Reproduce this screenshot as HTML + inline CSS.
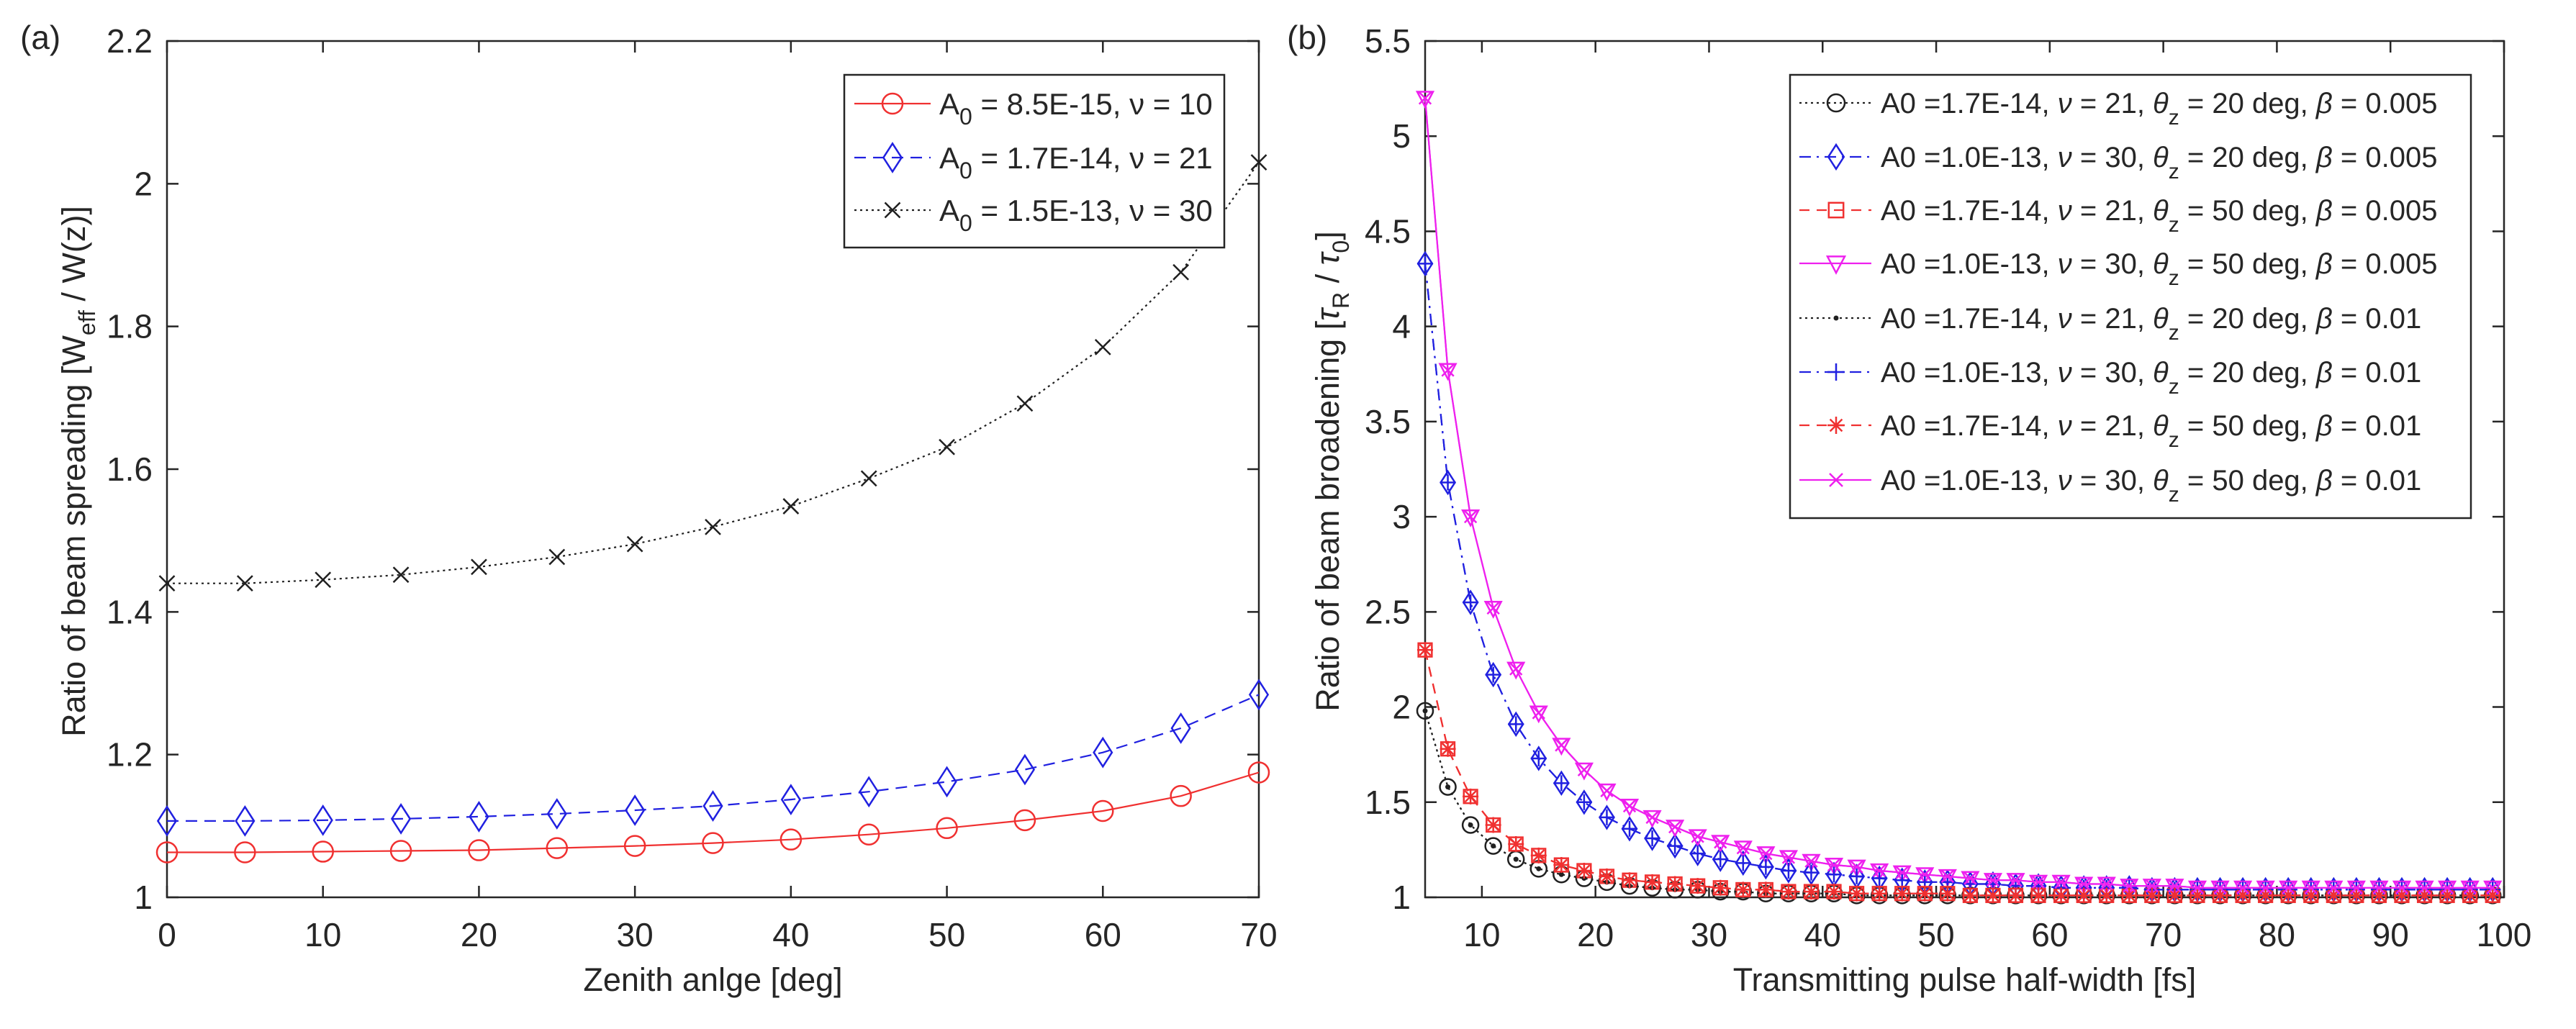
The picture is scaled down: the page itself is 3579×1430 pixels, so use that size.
<!DOCTYPE html>
<html><head><meta charset="utf-8"><style>
html,body{margin:0;padding:0;background:#fff;}
svg{display:block;font-family:"Liberation Sans",sans-serif;}
</style></head><body>
<svg id="fig" width="3579" height="1430" viewBox="0 0 3579 1430" xmlns="http://www.w3.org/2000/svg">
<rect width="3579" height="1430" fill="#fff"/>
<g id="pa"></g>
<g id="pb"></g>
</svg>
<script>
// Panel (a) data
const aX = [0,5,10,15,20,25,30,35,40,45,50,55,60,65,70];
const aRed = [1.063,1.063,1.064,1.065,1.066,1.069,1.072,1.076,1.081,1.088,1.097,1.108,1.121,1.142,1.175];
const aBlue = [1.107,1.107,1.108,1.110,1.113,1.117,1.122,1.128,1.137,1.148,1.162,1.179,1.203,1.237,1.284];
const aBlack = [1.440,1.440,1.445,1.452,1.463,1.477,1.495,1.519,1.548,1.587,1.631,1.692,1.771,1.876,2.030];
const aXTicks = [0,10,20,30,40,50,60,70];
const aYTicks = [1,1.2,1.4,1.6,1.8,2,2.2];
const aYTickLabels = ["1","1.2","1.4","1.6","1.8","2","2.2"];
const aLegend = ["A0 = 8.5E-15, \u03bd = 10","A0 = 1.7E-14, \u03bd = 21","A0 = 1.5E-13, \u03bd = 30"];
// Panel (b) data
const bX = [5,7,9,11,13,15,17,19,21,23,25,27,29,31,33,35,37,39,41,43,45,47,49,51,53,55,57,59,61,63,65,67,69,71,73,75,77,79,81,83,85,87,89,91,93,95,97,99];
const bBlack = [1.98,1.58,1.38,1.27,1.20,1.15,1.12,1.10,1.08,1.06,1.05,1.04,1.04,1.03,1.03,1.02,1.02,1.02,1.02,1.01,1.01,1.01,1.01,1.01,1.01,1.01,1.01,1.01,1.01,1.01,1.01,1.01,1.01,1.01,1.01,1.01,1.01,1.01,1.01,1.01,1.01,1.01,1.01,1.01,1.01,1.01,1.01,1.01];
const bBlue = [4.33,3.18,2.55,2.17,1.91,1.73,1.60,1.50,1.42,1.36,1.31,1.27,1.23,1.20,1.18,1.16,1.14,1.13,1.12,1.11,1.10,1.09,1.08,1.08,1.07,1.07,1.06,1.06,1.05,1.05,1.05,1.05,1.04,1.04,1.04,1.04,1.04,1.04,1.04,1.04,1.04,1.04,1.04,1.04,1.04,1.04,1.04,1.04];
const bRed = [2.30,1.78,1.53,1.38,1.28,1.22,1.17,1.14,1.11,1.09,1.08,1.07,1.06,1.05,1.04,1.04,1.03,1.03,1.03,1.02,1.02,1.02,1.02,1.02,1.01,1.01,1.01,1.01,1.01,1.01,1.01,1.01,1.01,1.01,1.01,1.01,1.01,1.01,1.01,1.01,1.01,1.01,1.01,1.01,1.01,1.01,1.01,1.01];
const bPink = [5.20,3.77,3.00,2.52,2.20,1.97,1.80,1.67,1.56,1.48,1.42,1.37,1.32,1.29,1.26,1.23,1.21,1.19,1.17,1.16,1.14,1.13,1.12,1.11,1.10,1.09,1.09,1.08,1.08,1.07,1.07,1.06,1.06,1.06,1.05,1.05,1.05,1.05,1.05,1.05,1.05,1.05,1.05,1.05,1.05,1.05,1.05,1.05];
const bXTicks = [10,20,30,40,50,60,70,80,90,100];
const bYTicks = [1,1.5,2,2.5,3,3.5,4,4.5,5,5.5];
const bYTickLabels = ["1","1.5","2","2.5","3","3.5","4","4.5","5","5.5"];
const bLegendA0 = ["1.7E-14","1.0E-13","1.7E-14","1.0E-13","1.7E-14","1.0E-13","1.7E-14","1.0E-13"];
const bLegendNu = ["21","30","21","30","21","30","21","30"];
const bLegendTh = ["20","20","50","50","20","20","50","50"];
const bLegendBeta = ["0.005","0.005","0.005","0.005","0.01","0.01","0.01","0.01"];

const NS="http://www.w3.org/2000/svg";
function mk(parent,tag,attrs){const e=document.createElementNS(NS,tag);for(const k in attrs)e.setAttribute(k,attrs[k]);parent.appendChild(e);return e;}

function marker(g,type,x,y,s,color){
  let e;
  if(type==='o'){e=mk(g,'circle',{cx:x,cy:y,r:s,fill:'none',stroke:color,'stroke-width':2.5});}
  else if(type==='d'){e=mk(g,'polygon',{points:`${x},${y-s*1.4} ${x+s*0.9},${y} ${x},${y+s*1.4} ${x-s*0.9},${y}`,fill:'none',stroke:color,'stroke-width':2.5});}
  else if(type==='s'){e=mk(g,'rect',{x:x-s*0.85,y:y-s*0.85,width:s*1.7,height:s*1.7,fill:'none',stroke:color,'stroke-width':2.5});}
  else if(type==='v'){e=mk(g,'polygon',{points:`${x-s},${y-s*0.8} ${x+s},${y-s*0.8} ${x},${y+s*1.1}`,fill:'none',stroke:color,'stroke-width':2.5});}
  else if(type==='.'){e=mk(g,'circle',{cx:x,cy:y,r:3.5,fill:color});}
  else if(type==='+'){e=mk(g,'path',{d:`M${x-s} ${y}H${x+s}M${x} ${y-s}V${y+s}`,stroke:color,'stroke-width':2.5});}
  else if(type==='*'){const a=s*0.7;e=mk(g,'path',{d:`M${x-s} ${y}H${x+s}M${x} ${y-s}V${y+s}M${x-a} ${y-a}L${x+a} ${y+a}M${x-a} ${y+a}L${x+a} ${y-a}`,stroke:color,'stroke-width':2.5});}
  else if(type==='x'){const a=s*0.75;e=mk(g,'path',{d:`M${x-a} ${y-a}L${x+a} ${y+a}M${x-a} ${y+a}L${x+a} ${y-a}`,stroke:color,'stroke-width':2.5});}
  
  
}

function axes(g,L,R,T,B,xs,ys,xt,yt,ytl,xlabel,ylabelFn){
  mk(g,'rect',{x:L,y:T,width:R-L,height:B-T,fill:'#fff',stroke:'#262626','stroke-width':2.5});
  xt.forEach(v=>{const x=xs(v);
    mk(g,'path',{d:`M${x} ${B}V${B-16}M${x} ${T}V${T+16}`,stroke:'#262626','stroke-width':2.5});
    const t=mk(g,'text',{x:x,y:B+68,'font-size':46,'text-anchor':'middle',fill:'#262626'});t.textContent=v;
    });
  yt.forEach((v,i)=>{const y=ys(v);
    mk(g,'path',{d:`M${L} ${y}H${L+16}M${R} ${y}H${R-16}`,stroke:'#262626','stroke-width':2.5});
    const t=mk(g,'text',{x:L-20,y:y+16,'font-size':46,'text-anchor':'end',fill:'#262626'});t.textContent=ytl[i];
    });
  const xl=mk(g,'text',{x:(L+R)/2,y:B+130,'font-size':45,'text-anchor':'middle',fill:'#262626'});xl.textContent=xlabel;
  
  ylabelFn(g);
}

function series(g,xs,ys,X,Y,color,dash,mtype,ms,name){
  const sg=mk(g,'g',{});
  
  
  const p=X.map((x,i)=>`${xs(x).toFixed(1)},${ys(Y[i]).toFixed(1)}`).join(' ');
  const attrs={points:p,fill:'none',stroke:color,'stroke-width':2.2};
  if(dash)attrs['stroke-dasharray']=dash;
  mk(sg,'polyline',attrs);
  X.forEach((x,i)=>marker(sg,mtype,xs(x),ys(Y[i]),ms,color));
}

// ---------- Panel a ----------
const ga=document.getElementById('pa');
const aL=232,aR=1749,aT=57,aB=1247;
const axs=v=>aL+(v-0)/(70-0)*(aR-aL);
const ays=v=>aB-(v-1)/(2.2-1)*(aB-aT);
axes(ga,aL,aR,aT,aB,axs,ays,aXTicks,aYTicks,aYTickLabels,"Zenith anlge [deg]",g=>{
  const t=mk(g,'text',{transform:'translate(118,655) rotate(-90)','font-size':45,'text-anchor':'middle',fill:'#262626'});
  t.innerHTML='Ratio of beam spreading [W<tspan font-size="32" dy="14">eff</tspan><tspan dy="-14"> / W(z)]</tspan>';
  
});
series(ga,axs,ays,aX,aRed,'#f03030',null,'o',14,'series-red');
series(ga,axs,ays,aX,aBlue,'#2020e0','16 10','d',14,'series-blue');
series(ga,axs,ays,aX,aBlack,'#202020','3 5','x',14,'series-black');
const la=mk(ga,'g',{});
mk(la,'rect',{x:1173,y:104,width:528,height:240,fill:'#fff',stroke:'#262626','stroke-width':2.5});
const aStyles=[['#f03030',null,'o'],['#2020e0','16 10','d'],['#202020','3 5','x']];
[144,219,292].forEach((y,i)=>{
  const st=aStyles[i];const at={x1:1187,x2:1293,y1:y,y2:y,stroke:st[0],'stroke-width':2.2};if(st[1])at['stroke-dasharray']=st[1];
  mk(la,'line',at);marker(la,st[2],1240,y,14,st[0]);
  const t=mk(la,'text',{x:1305,y:y+15,'font-size':42,fill:'#262626'});
  t.innerHTML=`A<tspan font-size="32" dy="14">0</tspan><tspan dy="-14"> = ${aLegend[i].slice(5)}</tspan>`;
  
});
const lblA=mk(ga,'text',{x:28,y:68,'font-size':46,fill:'#262626'});lblA.textContent='(a)';


// ---------- Panel b ----------
const gb=document.getElementById('pb');
const bL=1980,bR=3479,bT=57,bB=1247;
const bxs=v=>bL+(v-5)/(100-5)*(bR-bL);
const bys=v=>bB-(v-1)/(5.5-1)*(bB-bT);
axes(gb,bL,bR,bT,bB,bxs,bys,bXTicks,bYTicks,bYTickLabels,"Transmitting pulse half-width [fs]",g=>{
  const t=mk(g,'text',{transform:'translate(1860,655) rotate(-90)','font-size':45,'text-anchor':'middle',fill:'#262626'});
  t.innerHTML='Ratio of beam broadening [<tspan font-style="italic">\u03c4</tspan><tspan font-size="32" dy="14">R</tspan><tspan dy="-14"> / </tspan><tspan font-style="italic">\u03c4</tspan><tspan font-size="32" dy="14">0</tspan><tspan dy="-14">]</tspan>';
  
});
const bStyles=[['#202020','3 5','o',bBlack],['#2020e0','16 8 3 8','d',bBlue],['#f03030','14 10','s',bRed],['#ee20ee',null,'v',bPink],
               ['#202020','3 5','.',bBlack],['#2020e0','16 8 3 8','+',bBlue],['#f03030','14 10','*',bRed],['#ee20ee',null,'x',bPink]];
const bNames=['series-black-circle','series-blue-diamond','series-red-square','series-magenta-triangle','series-black-dot','series-blue-plus','series-red-star','series-magenta-x'];
bStyles.forEach((st,i)=>series(gb,bxs,bys,bX,st[3],st[0],st[1],st[2],11,bNames[i]));
const lb=mk(gb,'g',{});
mk(lb,'rect',{x:2487,y:104,width:946,height:616,fill:'#fff',stroke:'#262626','stroke-width':2.5});
[143,218,292,366,442,517,591,667].forEach((y,i)=>{
  const st=bStyles[i];const at={x1:2500,x2:2600,y1:y,y2:y,stroke:st[0],'stroke-width':2.2};if(st[1])at['stroke-dasharray']=st[1];
  mk(lb,'line',at);marker(lb,st[2],2551,y,12,st[0]);
  const t=mk(lb,'text',{x:2613,y:y+14,'font-size':40,fill:'#262626'});
  t.innerHTML=`A0 =${bLegendA0[i]}, <tspan font-style="italic">\u03bd</tspan> = ${bLegendNu[i]}, <tspan font-style="italic">\u03b8</tspan><tspan font-size="30" dy="16">z</tspan><tspan dy="-16"> = ${bLegendTh[i]} deg, </tspan><tspan font-style="italic">\u03b2</tspan> = ${bLegendBeta[i]}`;
  
});
const lblB=mk(gb,'text',{x:1788,y:68,'font-size':46,fill:'#262626'});lblB.textContent='(b)';

</script>
</body></html>
